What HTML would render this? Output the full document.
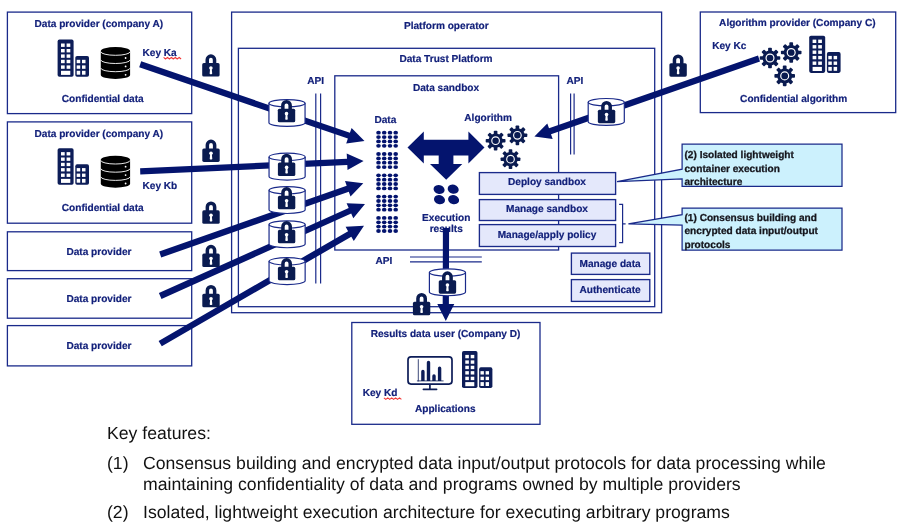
<!DOCTYPE html>
<html><head><meta charset="utf-8"><title>Data Trust Platform</title>
<style>
html,body{margin:0;padding:0;background:#fff;}
body{width:900px;height:528px;overflow:hidden;font-family:"Liberation Sans",sans-serif;}
svg{display:block;font-family:"Liberation Sans",sans-serif;text-rendering:geometricPrecision;will-change:transform;}
.t{font-weight:bold;font-size:10.1px;fill:#12207a;stroke:#12207a;stroke-width:0.18;}
.c{font-weight:bold;font-size:10.1px;fill:#15151c;stroke:#15151c;stroke-width:0.28;}
.b{font-size:17.64px;fill:#111;}
.bx{fill:#fff;stroke:#1a2a8a;stroke-width:1.3;}
.bn{fill:none;stroke:#1a2a8a;stroke-width:1.3;}
.ab{fill:#e4e8fb;stroke:#1a2a8a;stroke-width:1.35;}
.ln{stroke:#04146e;stroke-width:6.3;fill:none;}
.ar{fill:#04146e;}
.thin{stroke:#1a2a8a;stroke-width:1.2;fill:none;}
</style></head><body>
<svg width="900" height="528" viewBox="0 0 900 528">
<defs>
<g id="lock">
  <path d="M5.05 10 V5.4 A3.65 3.65 0 0 1 12.35 5.4 V10" fill="#fff" stroke="#0a1b50" stroke-width="3.5"/>
  <rect x="0" y="8.8" width="17.4" height="13.5" rx="1.6" fill="#0a1b50"/>
  <circle cx="8.7" cy="13.7" r="1.8" fill="#fff"/>
  <path d="M7.9 14 L9.5 14 L10 19.4 Q8.7 20.4 7.4 19.4 Z" fill="#fff"/>
</g>
<g id="cyl">
  <path d="M0 3.7 A18.05 3.7 0 0 1 36.1 3.7 V23.2 A18.05 3.7 0 0 1 0 23.2 Z" fill="#fff" stroke="#1a2a8a" stroke-width="1.2"/>
  <path d="M0 3.7 A18.05 3.7 0 0 0 36.1 3.7" fill="none" stroke="#1a2a8a" stroke-width="1.2"/>
</g>
<g id="bld">
  <rect x="0" y="0" width="16" height="37.2" rx="1.8" fill="#0d1d58"/>
  <rect x="17.7" y="16.4" width="13.7" height="20.8" rx="1.8" fill="#0d1d58"/>
  <g fill="#fff">
    <rect x="3.4" y="3.9" width="3.7" height="3.4"/><rect x="9" y="3.9" width="3.7" height="3.4"/>
    <rect x="3.4" y="9.4" width="3.7" height="3.4"/><rect x="9" y="9.4" width="3.7" height="3.4"/>
    <rect x="3.4" y="14.8" width="3.7" height="3.4"/><rect x="9" y="14.8" width="3.7" height="3.4"/>
    <rect x="3.4" y="20.2" width="3.7" height="3.4"/><rect x="9" y="20.2" width="3.7" height="3.4"/>
    <rect x="3.4" y="25.8" width="3.7" height="3.4"/><rect x="9" y="25.8" width="3.7" height="3.4"/>
    <rect x="3.4" y="31.2" width="9.3" height="4.1"/>
    <rect x="19.1" y="20.2" width="3.5" height="3.4"/><rect x="24.4" y="20.2" width="3.5" height="3.4"/>
    <rect x="19.1" y="25.8" width="3.5" height="3.4"/><rect x="24.4" y="25.8" width="3.5" height="3.4"/>
    <rect x="19.1" y="31.2" width="3.5" height="3.9"/><rect x="24.4" y="31.2" width="3.5" height="3.9"/>
  </g>
</g>
<g id="db">
  <path d="M0 3.9 A14.65 3.9 0 0 1 29.3 3.9 V28 A14.65 3.9 0 0 1 0 28 Z" fill="#000"/>
  <g fill="none" stroke="#fff" stroke-width="0.9">
    <path d="M0 4.6 A14.65 3.6 0 0 0 29.3 4.6"/>
    <path d="M0 12.8 A14.65 3.6 0 0 0 29.3 12.8"/>
    <path d="M0 21 A14.65 3.6 0 0 0 29.3 21"/>
  </g>
  <circle cx="24.8" cy="10.9" r="0.9" fill="#fff"/><circle cx="24.8" cy="19.3" r="0.9" fill="#fff"/><circle cx="24.8" cy="27.7" r="0.9" fill="#fff"/>
</g>
<g id="gear">
  <g fill="#0a1b50">
    <circle r="7.15"/>
    <g id="tooth4">
      <rect x="-1.8" y="-9.9" width="3.6" height="19.8" rx="0.8"/>
      <rect x="-9.9" y="-1.8" width="19.8" height="3.6" rx="0.8"/>
    </g>
    <use href="#tooth4" transform="rotate(45)"/>
  </g>
  <circle r="3.8" fill="none" stroke="#fff" stroke-width="1.15"/>
</g>
</defs>

<!-- left provider boxes -->
<rect class="bx" x="7.4" y="12.1" width="184.3" height="101.5"/>
<rect class="bx" x="7.4" y="121.9" width="184.3" height="101.3"/>
<rect class="bx" x="7.4" y="231.8" width="184.3" height="38.8"/>
<rect class="bx" x="7.4" y="278.7" width="184.3" height="39.5"/>
<rect class="bx" x="7.4" y="325.6" width="184.3" height="40.3"/>

<!-- platform boxes -->
<rect class="bx" x="231.6" y="12.1" width="430" height="300.6"/>
<rect class="bx" x="238.4" y="48.3" width="416.3" height="258.4"/>
<rect class="bx" x="334.8" y="75.8" width="223.8" height="174.2"/>

<!-- right algorithm box, result box -->
<rect class="bx" x="700.3" y="12" width="195.4" height="100.6"/>
<rect class="bx" x="351.8" y="322.5" width="188.2" height="101.8"/>

<!-- API lines -->
<path class="thin" d="M315.8 93.6 V283.6 M320.6 93.6 V283.6"/>
<path class="thin" d="M570.6 93.4 V154.4 M574.1 93.4 V154.4"/>
<path class="thin" d="M410 257 H481.8 M410 261.8 H481.8"/>


<!-- thick lines (under cylinders) -->
<polygon class="ar" points="139.2,67.3 347.9,138.6 346.2,143.5 364.5,141.0 351.6,127.9 349.9,132.7 141.2,61.3"/>
<polygon class="ar" points="140.3,174.5 347.3,165.0 347.5,170.1 363.6,161.1 346.7,153.6 347.0,158.7 140.1,168.3"/>
<polygon class="ar" points="161.2,257.5 348.8,191.7 350.5,196.5 363.3,183.3 345.0,181.0 346.7,185.8 159.2,251.5"/>
<polygon class="ar" points="161.5,298.9 351.2,213.6 353.3,218.3 365.0,204.0 346.6,203.2 348.7,207.9 158.9,293.1"/>
<polygon class="ar" points="161.8,346.3 351.3,236.7 353.8,241.1 364.0,225.7 345.6,226.8 348.1,231.2 158.6,340.9"/>
<polygon class="ar" points="758.0,55.6 549.0,128.2 547.3,123.4 534.4,136.6 552.7,139.0 551.0,134.2 760.0,61.6"/>
<text class="t" text-anchor="middle" x="446.2" y="221">Execution</text><text class="t" text-anchor="middle" x="446.2" y="232.1">results</text>
<polygon class="ar" points="442.9,228.0 442.7,304.0 437.3,304.0 445.8,321.0 454.3,304.0 448.9,304.0 449.1,228.0"/>
<polygon class="ar" points="407.5,147.5 423.8,131.4 423.8,139.7 468.4,139.7 468.4,131.4 484.5,147.5 468.4,163.6 468.4,155.4 453.4,155.4 453.4,163.9 462.3,163.9 446.2,179.8 430,163.9 438.7,163.9 438.7,155.4 423.8,155.4 423.8,163.6"/>
<use href="#cyl" x="268.95" y="99.55"/>
<use href="#lock" x="277.80" y="99.95"/>
<use href="#cyl" x="269.05" y="153.20"/>
<use href="#lock" x="277.90" y="153.70"/>
<use href="#cyl" x="269.05" y="186.60"/>
<use href="#lock" x="277.90" y="187.05"/>
<use href="#cyl" x="269.05" y="220.85"/>
<use href="#lock" x="277.90" y="221.05"/>
<use href="#cyl" x="269.05" y="257.65"/>
<use href="#lock" x="277.90" y="258.05"/>
<use href="#cyl" x="588.20" y="98.50"/>
<use href="#lock" x="597.85" y="100.90"/>
<use href="#cyl" x="429.40" y="268.85"/>
<use href="#lock" x="438.75" y="271.35"/>
<use href="#lock" x="202.2" y="54.3"/>
<use href="#lock" x="202.3" y="139.6"/>
<use href="#lock" x="202.3" y="201.5"/>
<use href="#lock" x="202.3" y="244.8"/>
<use href="#lock" x="202.3" y="285.0"/>
<use href="#lock" x="669.4" y="54.4"/>
<use href="#lock" x="412.9" y="293.0"/>
<g fill="#04146e"><ellipse cx="378.5" cy="132.7" rx="2.3" ry="1.9"/><ellipse cx="384.2" cy="132.7" rx="2.3" ry="1.9"/><ellipse cx="390.0" cy="132.7" rx="2.3" ry="1.9"/><ellipse cx="395.7" cy="132.7" rx="2.3" ry="1.9"/><ellipse cx="378.5" cy="137.1" rx="2.3" ry="1.9"/><ellipse cx="384.2" cy="137.1" rx="2.3" ry="1.9"/><ellipse cx="390.0" cy="137.1" rx="2.3" ry="1.9"/><ellipse cx="395.7" cy="137.1" rx="2.3" ry="1.9"/><ellipse cx="378.5" cy="141.4" rx="2.3" ry="1.9"/><ellipse cx="384.2" cy="141.4" rx="2.3" ry="1.9"/><ellipse cx="390.0" cy="141.4" rx="2.3" ry="1.9"/><ellipse cx="395.7" cy="141.4" rx="2.3" ry="1.9"/><ellipse cx="378.5" cy="145.8" rx="2.3" ry="1.9"/><ellipse cx="384.2" cy="145.8" rx="2.3" ry="1.9"/><ellipse cx="390.0" cy="145.8" rx="2.3" ry="1.9"/><ellipse cx="395.7" cy="145.8" rx="2.3" ry="1.9"/><ellipse cx="378.5" cy="154.0" rx="2.3" ry="1.9"/><ellipse cx="384.2" cy="154.0" rx="2.3" ry="1.9"/><ellipse cx="390.0" cy="154.0" rx="2.3" ry="1.9"/><ellipse cx="395.7" cy="154.0" rx="2.3" ry="1.9"/><ellipse cx="378.5" cy="158.4" rx="2.3" ry="1.9"/><ellipse cx="384.2" cy="158.4" rx="2.3" ry="1.9"/><ellipse cx="390.0" cy="158.4" rx="2.3" ry="1.9"/><ellipse cx="395.7" cy="158.4" rx="2.3" ry="1.9"/><ellipse cx="378.5" cy="162.7" rx="2.3" ry="1.9"/><ellipse cx="384.2" cy="162.7" rx="2.3" ry="1.9"/><ellipse cx="390.0" cy="162.7" rx="2.3" ry="1.9"/><ellipse cx="395.7" cy="162.7" rx="2.3" ry="1.9"/><ellipse cx="378.5" cy="167.1" rx="2.3" ry="1.9"/><ellipse cx="384.2" cy="167.1" rx="2.3" ry="1.9"/><ellipse cx="390.0" cy="167.1" rx="2.3" ry="1.9"/><ellipse cx="395.7" cy="167.1" rx="2.3" ry="1.9"/><ellipse cx="378.5" cy="175.3" rx="2.3" ry="1.9"/><ellipse cx="384.2" cy="175.3" rx="2.3" ry="1.9"/><ellipse cx="390.0" cy="175.3" rx="2.3" ry="1.9"/><ellipse cx="395.7" cy="175.3" rx="2.3" ry="1.9"/><ellipse cx="378.5" cy="179.7" rx="2.3" ry="1.9"/><ellipse cx="384.2" cy="179.7" rx="2.3" ry="1.9"/><ellipse cx="390.0" cy="179.7" rx="2.3" ry="1.9"/><ellipse cx="395.7" cy="179.7" rx="2.3" ry="1.9"/><ellipse cx="378.5" cy="184.0" rx="2.3" ry="1.9"/><ellipse cx="384.2" cy="184.0" rx="2.3" ry="1.9"/><ellipse cx="390.0" cy="184.0" rx="2.3" ry="1.9"/><ellipse cx="395.7" cy="184.0" rx="2.3" ry="1.9"/><ellipse cx="378.5" cy="188.4" rx="2.3" ry="1.9"/><ellipse cx="384.2" cy="188.4" rx="2.3" ry="1.9"/><ellipse cx="390.0" cy="188.4" rx="2.3" ry="1.9"/><ellipse cx="395.7" cy="188.4" rx="2.3" ry="1.9"/><ellipse cx="378.5" cy="196.6" rx="2.3" ry="1.9"/><ellipse cx="384.2" cy="196.6" rx="2.3" ry="1.9"/><ellipse cx="390.0" cy="196.6" rx="2.3" ry="1.9"/><ellipse cx="395.7" cy="196.6" rx="2.3" ry="1.9"/><ellipse cx="378.5" cy="201.0" rx="2.3" ry="1.9"/><ellipse cx="384.2" cy="201.0" rx="2.3" ry="1.9"/><ellipse cx="390.0" cy="201.0" rx="2.3" ry="1.9"/><ellipse cx="395.7" cy="201.0" rx="2.3" ry="1.9"/><ellipse cx="378.5" cy="205.3" rx="2.3" ry="1.9"/><ellipse cx="384.2" cy="205.3" rx="2.3" ry="1.9"/><ellipse cx="390.0" cy="205.3" rx="2.3" ry="1.9"/><ellipse cx="395.7" cy="205.3" rx="2.3" ry="1.9"/><ellipse cx="378.5" cy="209.7" rx="2.3" ry="1.9"/><ellipse cx="384.2" cy="209.7" rx="2.3" ry="1.9"/><ellipse cx="390.0" cy="209.7" rx="2.3" ry="1.9"/><ellipse cx="395.7" cy="209.7" rx="2.3" ry="1.9"/><ellipse cx="378.5" cy="217.9" rx="2.3" ry="1.9"/><ellipse cx="384.2" cy="217.9" rx="2.3" ry="1.9"/><ellipse cx="390.0" cy="217.9" rx="2.3" ry="1.9"/><ellipse cx="395.7" cy="217.9" rx="2.3" ry="1.9"/><ellipse cx="378.5" cy="222.3" rx="2.3" ry="1.9"/><ellipse cx="384.2" cy="222.3" rx="2.3" ry="1.9"/><ellipse cx="390.0" cy="222.3" rx="2.3" ry="1.9"/><ellipse cx="395.7" cy="222.3" rx="2.3" ry="1.9"/><ellipse cx="378.5" cy="226.6" rx="2.3" ry="1.9"/><ellipse cx="384.2" cy="226.6" rx="2.3" ry="1.9"/><ellipse cx="390.0" cy="226.6" rx="2.3" ry="1.9"/><ellipse cx="395.7" cy="226.6" rx="2.3" ry="1.9"/><ellipse cx="378.5" cy="231.0" rx="2.3" ry="1.9"/><ellipse cx="384.2" cy="231.0" rx="2.3" ry="1.9"/><ellipse cx="390.0" cy="231.0" rx="2.3" ry="1.9"/><ellipse cx="395.7" cy="231.0" rx="2.3" ry="1.9"/></g>
<g fill="#04146e"><ellipse cx="439.1" cy="189.5" rx="5.6" ry="4.5" transform="rotate(15 439.1 189.5)"/><ellipse cx="453.2" cy="189.2" rx="5.6" ry="4.5" transform="rotate(15 453.2 189.2)"/><ellipse cx="439.5" cy="199.7" rx="5.6" ry="4.5" transform="rotate(15 439.5 199.7)"/><ellipse cx="453.6" cy="199.7" rx="5.6" ry="4.5" transform="rotate(15 453.6 199.7)"/></g>
<use href="#bld" x="57.6" y="39.6"/><use href="#db" x="100.8" y="47.1"/>
<g transform="translate(57.6 148.3) scale(1 0.98)"><use href="#bld"/></g><use href="#db" x="100.8" y="155.8"/>
<use href="#bld" x="809.2" y="35.7"/>
<g transform="translate(462 351) scale(0.968 0.997)"><use href="#bld"/></g>
<use href="#gear" x="495.6" y="140.7"/>
<use href="#gear" x="517.4" y="135.3"/>
<use href="#gear" x="510.5" y="159.2"/>
<g transform="translate(770.0 58.0) scale(1.04)"><use href="#gear"/></g>
<g transform="translate(791.2 52.5) scale(1.04)"><use href="#gear"/></g>
<g transform="translate(784.7 75.9) scale(1.04)"><use href="#gear"/></g>
<g fill="none" stroke="#0d1d58" stroke-linecap="round">
<rect x="408" y="356.9" width="44" height="27.2" rx="3" stroke-width="1.7"/>
<path d="M429.9 384.6 V389 M423.4 389.3 H436.6" stroke-width="1.7"/>
<path d="M418.3 359.6 V381 M417.3 380.9 H443.2" stroke-width="0.8"/>
<path d="M421.2 380.9 V371.5 a1.7 1.7 0 0 1 3.4 0 V380.9 Z M426.8 380.9 V362.4 a1.7 1.7 0 0 1 3.4 0 V380.9 Z M432.3 380.9 V375.9 a1.7 1.7 0 0 1 3.4 0 V380.9 Z M437.9 380.9 V368.2 a1.7 1.7 0 0 1 3.4 0 V380.9 Z" fill="#0d1d58" stroke="none"/>
</g>
<rect class="ab" x="479.4" y="172.6" width="136.2" height="21.8"/>
<text class="t" text-anchor="middle" x="547.0" y="185.3">Deploy sandbox</text>
<rect class="ab" x="479.4" y="199.6" width="136.2" height="20.9"/>
<text class="t" text-anchor="middle" x="547.0" y="211.8">Manage sandbox</text>
<rect class="ab" x="479.4" y="224.6" width="136.2" height="21.9"/>
<text class="t" text-anchor="middle" x="547.0" y="238.2">Manage/apply policy</text>
<rect class="ab" x="571.4" y="253.1" width="78.4" height="21.3"/>
<text class="t" text-anchor="middle" x="610.1" y="266.9">Manage data</text>
<rect class="ab" x="571.4" y="279.6" width="78.4" height="21.8"/>
<text class="t" text-anchor="middle" x="610.1" y="293.3">Authenticate</text>
<path class="thin" d="M619.1 204.3 H622.6 V242.7 H619.1 M622.6 223.8 H625.6"/>
<path d="M682.1 144.2 H842 V186.3 H682.1 V178.9 L617 181.7 L682.1 169.2 Z" fill="#ccf1fd" stroke="#1a2a8a" stroke-width="1.25" stroke-linejoin="miter"/>
<path d="M682.1 208.1 H842 V250.2 H682.1 V225.2 L628.4 223.8 L682.1 214.7 Z" fill="#ccf1fd" stroke="#1a2a8a" stroke-width="1.25" stroke-linejoin="miter"/>
<text class="c" x="684.5" y="158.1">(2) Isolated lightweight</text>
<text class="c" x="684.5" y="171.6">container execution</text>
<text class="c" x="684.5" y="185.1">architecture</text>
<text class="c" x="684.5" y="220.5">(1) Consensus building and</text>
<text class="c" x="684.5" y="234.2">encrypted data input/output</text>
<text class="c" x="684.5" y="247.8">protocols</text>
<text class="t" x="34.5" y="27.3">Data provider (company A)</text>
<text class="t" x="61.8" y="102.1">Confidential data</text>
<text class="t" x="142.5" y="56.2">Key Ka</text>
<text class="t" x="34.5" y="136.5">Data provider (company A)</text>
<text class="t" x="61.8" y="211.0">Confidential data</text>
<text class="t" x="142.5" y="189.4">Key Kb</text>
<text class="t" x="66.4" y="255.0">Data provider</text>
<text class="t" x="66.4" y="302.1">Data provider</text>
<text class="t" x="66.4" y="348.9">Data provider</text>
<text class="t" x="446.3" y="28.7" text-anchor="middle">Platform operator</text>
<text class="t" x="446.0" y="62.4" text-anchor="middle">Data Trust Platform</text>
<text class="t" x="446.0" y="90.8" text-anchor="middle">Data sandbox</text>
<text class="t" x="307.3" y="83.5">API</text>
<text class="t" x="566.4" y="83.5">API</text>
<text class="t" x="375.5" y="264.0">API</text>
<text class="t" x="374.4" y="123.0">Data</text>
<text class="t" x="464.3" y="121.0">Algorithm</text>
<text class="t" x="370.7" y="337.3">Results data user (Company D)</text>
<text class="t" x="362.7" y="396.0">Key Kd</text>
<text class="t" x="415.0" y="412.2">Applications</text>
<text class="t" x="719.1" y="26.0">Algorithm provider (Company C)</text>
<text class="t" x="712.2" y="49.4">Key Kc</text>
<text class="t" x="740.1" y="102.4">Confidential algorithm</text>
<path d="M163.6 57.4 L165.5 59.0 L167.5 57.4 L169.4 59.0 L171.4 57.4 L173.3 59.0 L175.3 57.4 L177.2 59.0 L179.2 57.4 L181.1 59.0" fill="none" stroke="#f23535" stroke-width="1.05" stroke-linejoin="round"/>
<path d="M383.9 397.8 L385.8 399.4 L387.8 397.8 L389.7 399.4 L391.7 397.8 L393.6 399.4 L395.6 397.8 L397.5 399.4 L399.5 397.8 L401.4 399.4" fill="none" stroke="#f23535" stroke-width="1.05" stroke-linejoin="round"/>
<text class="b" x="107.0" y="439.2">Key features:</text>
<text class="b" x="107.0" y="468.7">(1)</text>
<text class="b" x="143.0" y="468.7">Consensus building and encrypted data input/output protocols for data processing while</text>
<text class="b" x="143.0" y="489.7">maintaining confidentiality of data and programs owned by multiple providers</text>
<text class="b" x="107.0" y="517.6">(2)</text>
<text class="b" x="143.0" y="517.6">Isolated, lightweight execution architecture for executing arbitrary programs</text>
</svg>
</body></html>
